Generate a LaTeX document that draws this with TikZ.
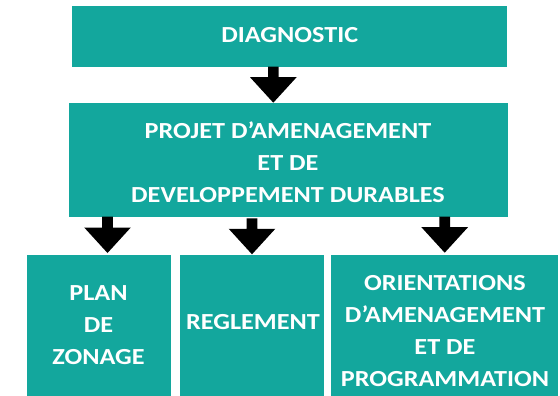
\documentclass[tikz,border=0pt]{standalone}
\usepackage{fontspec}
\setmainfont{Carlito}[FakeStretch=1.14]
\usetikzlibrary{calc}
\definecolor{tealbox}{RGB}{19,167,157}
\tikzset{
  boxshape/.style={fill=tealbox, draw=none, inner sep=0pt, anchor=north west},
  boxtext/.style={text=white, inner sep=0pt, align=center,
    font=\fontsize{23}{32}\selectfont\bfseries},
}
\newcommand\blockarr[2]{%
  \fill[black] let \p1=(#1), \p2=(#2) in
    (\x1-5.3pt,\y1) -- (\x1+5.3pt,\y1) -- (\x1+5.3pt,\y2+25.5pt) --
    (\x1+23.3pt,\y2+25.5pt) -- (\x1,\y2) -- (\x1-23.3pt,\y2+25.5pt) --
    (\x1-5.3pt,\y2+25.5pt) -- cycle;}
\begin{document}
\begin{tikzpicture}[x=1pt,y=-1pt]
\useasboundingbox (0,0) rectangle (560,396);
% boxes
\node[boxshape, minimum width=435.3pt, minimum height=61pt] (diag) at (71.7,5.7) {};
\node[boxshape, minimum width=439pt, minimum height=114pt] (padd) at (68.7,102.7) {};
\node[boxshape, minimum width=144pt, minimum height=141pt] (b1) at (26.7,255) {};
\node[boxshape, minimum width=144pt, minimum height=141pt] (b2) at (180,255) {};
\node[boxshape, minimum width=226.3pt, minimum height=141pt] (b3) at (331,255) {};
% texts
\node[boxtext] (t0) at (289.7,35) {DIAGNOSTIC};
\node[boxtext] (t1) at (288,162.5) {PROJET D’AMENAGEMENT\\ET DE\\DEVELOPPEMENT DURABLES};
\node[boxtext] (t2) at (98.5,325.6) {PLAN\\DE\\ZONAGE};
\node[boxtext] (t3) at (253,322) {REGLEMENT};
\node[boxtext] (t4) at (445,331) {ORIENTATIONS\\D’AMENAGEMENT\\ET DE\\PROGRAMMATION};
% arrow end points
\coordinate (s0) at (273.3,66.7);  \coordinate (e0) at (273.3,102.7);
\coordinate (s1) at (107.5,216.7); \coordinate (e1) at (107.5,253);
\coordinate (s2) at (252,218.3);   \coordinate (e2) at (252,254.3);
\coordinate (s3) at (444.7,216.7); \coordinate (e3) at (444.7,252.7);
\blockarr{s0}{e0}
\blockarr{s1}{e1}
\blockarr{s2}{e2}
\blockarr{s3}{e3}
\end{tikzpicture}
\end{document}
